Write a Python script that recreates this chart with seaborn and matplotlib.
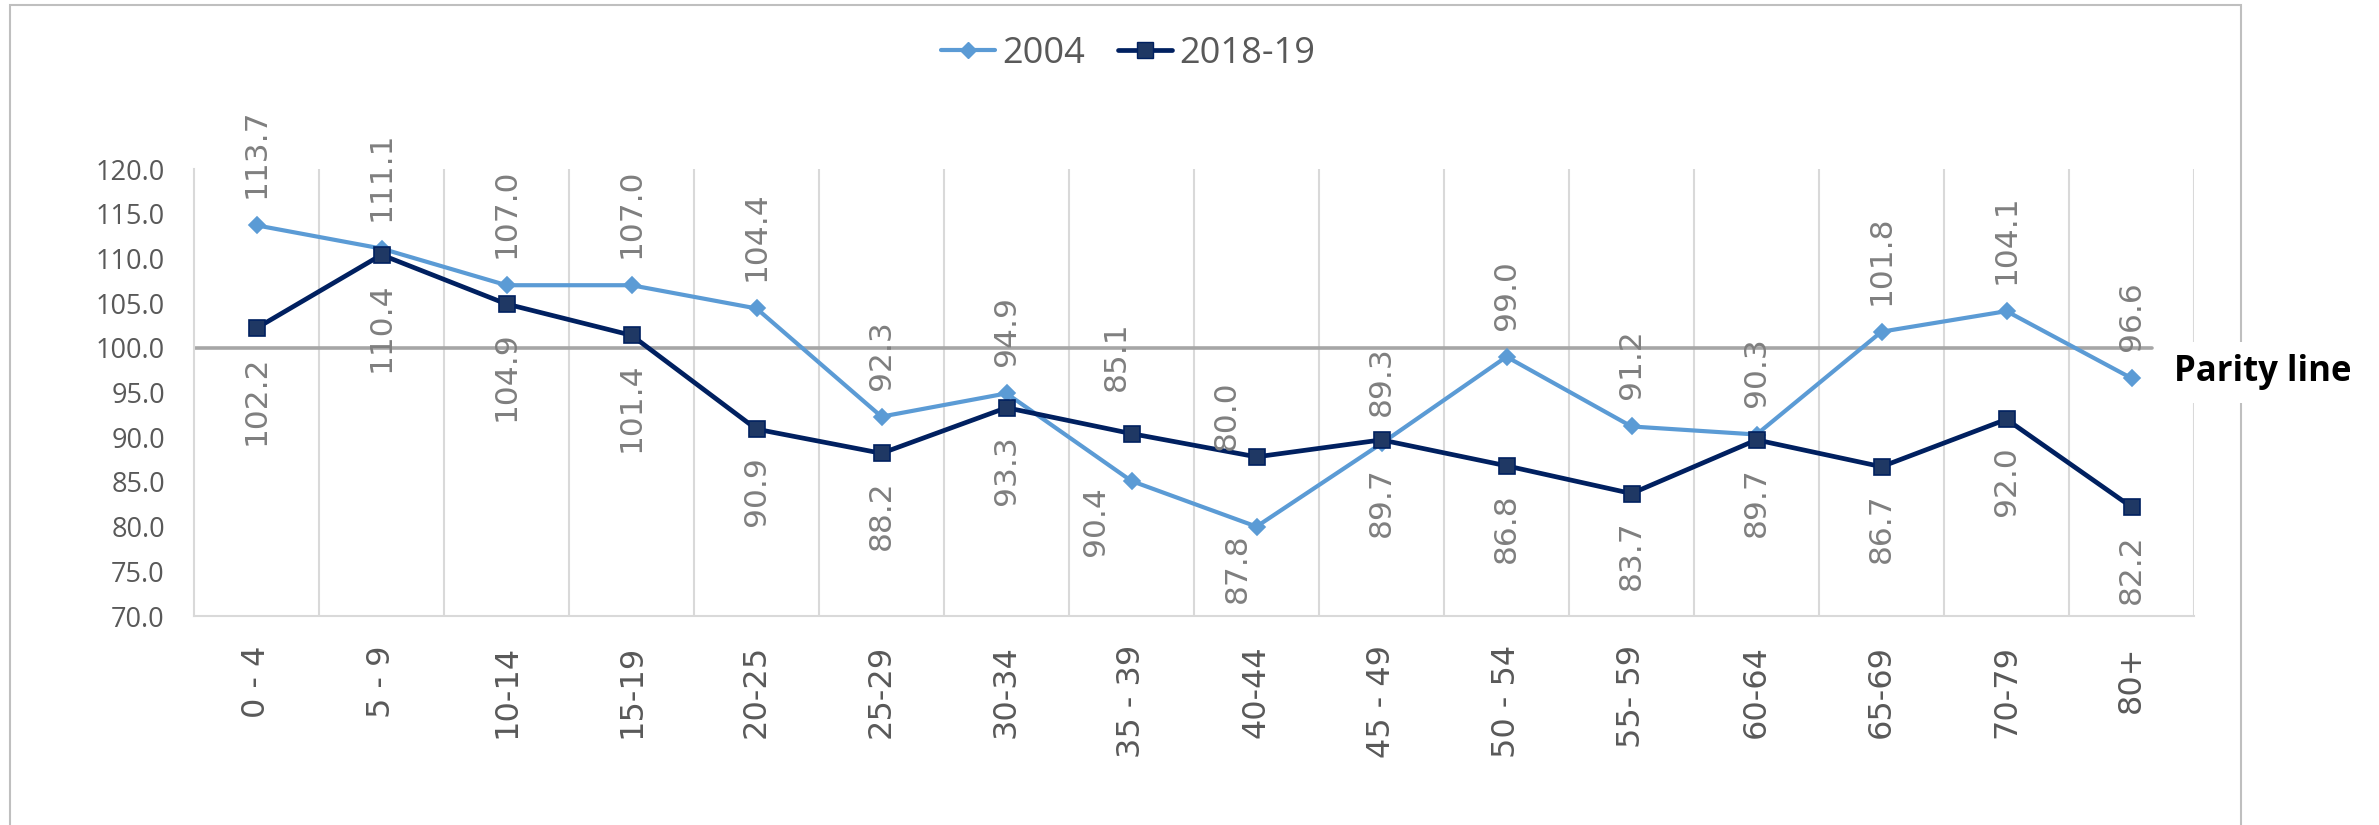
import pandas as pd
import matplotlib.pyplot as plt
import matplotlib.patches as mpatches
import seaborn as sns

# 資料
age_groups = ['0 - 4', '5 - 9', '10-14', '15-19', '20-25', '25-29', '30-34', '35 - 39',
              '40-44', '45 - 49', '50 - 54', '55- 59', '60-64', '65-69', '70-79', '80+']
ratio_2004 = [113.7, 111.1, 107.0, 107.0, 104.4, 92.3, 94.9, 85.1,
              80.0, 89.3, 99.0, 91.2, 90.3, 101.8, 104.1, 96.6]
ratio_2018 = [102.2, 110.4, 104.9, 101.4, 90.9, 88.2, 93.3, 90.4,
              87.8, 89.7, 86.8, 83.7, 89.7, 86.7, 92.0, 82.2]
series_names = ['2004', '2018-19']
y_ticks = [70, 75, 80, 85, 90, 95, 100, 105, 110, 115, 120]

sns.set_theme(style="white")
plt.rcParams['font.family'] = ['DejaVu Sans']
calibri_like = ['Open Sans', 'DejaVu Sans']

df = pd.DataFrame({
    'age': age_groups * 2,
    'value': ratio_2004 + ratio_2018,
    'year': [series_names[0]] * len(age_groups) + [series_names[1]] * len(age_groups),
})

colors = {'2004': '#5B9BD5', '2018-19': '#002060'}

W, H = 2379, 825
fig = plt.figure(figsize=(W / 100, H / 100), dpi=100)
ax = fig.add_axes([194 / W, 1 - 616 / H, 2000 / W, 447 / H])

sns.lineplot(data=df, x='age', y='value', hue='year', style='year',
             markers={'2004': 'D', '2018-19': 's'}, dashes=False, sort=False,
             palette=colors, linewidth=3.0, ax=ax, legend=False)

# 標記外觀
marker_style = [('#5B9BD5', '#5B9BD5', 8.5, 3.0), ('#1F3864', '#002060', 12.0, 3.4)]
for line, (mfc, mec, ms, lw) in zip(ax.lines, marker_style):
    line.set_markerfacecolor(mfc)
    line.set_markeredgecolor(mec)
    line.set_markeredgewidth(1.2)
    line.set_markersize(ms)
    line.set_linewidth(lw)

# 平等線
ax.axhline(100, xmin=0, xmax=0.979, color='#A6A6A6', lw=2.6, zorder=1)

# 數據標籤 (部分標籤手動位移, 單位: points)
label_shift_2004 = {7: (-11, 65), 8: (-22, 55)}
label_shift_2018 = {7: (-26, 38), 8: (-14, 55)}
gap = 19.5
for i, (a, b) in enumerate(zip(ratio_2004, ratio_2018)):
    dx, dy = label_shift_2004.get(i, (0, gap))
    ax.annotate(f"{a:.1f}", (i, a), xytext=(dx, dy), textcoords='offset points',
                rotation=90, ha='center', va='bottom', fontsize=22.5, color='#7F7F7F')
    dx, dy = label_shift_2018.get(i, (0, gap))
    ax.annotate(f"{b:.1f}", (i, b), xytext=(dx, -dy), textcoords='offset points',
                rotation=90, ha='center', va='top', fontsize=22.5, color='#7F7F7F')

ax.set_xlim(-0.5, len(age_groups) - 0.5)
ax.set_ylim(70, 120)
ax.set_yticks(y_ticks)
ax.set_yticklabels([f"{v:.1f}" for v in y_ticks], family=calibri_like, fontsize=19.5,
                   color='#595959')
ax.set_xticks(range(len(age_groups)))
ax.set_xticklabels(age_groups, rotation=90, fontsize=23, color='#595959', va='top')
ax.set_xticks([i + 0.5 for i in range(len(age_groups))], minor=True)
ax.tick_params(axis='x', which='both', length=0, pad=21)
ax.tick_params(axis='y', length=0, pad=21)
ax.grid(False)
ax.grid(True, which='minor', axis='x', color='#D9D9D9', lw=1.5)
ax.set_xlabel('')
ax.set_ylabel('')
for side in ['top', 'right']:
    ax.spines[side].set_visible(False)
for side in ['left', 'bottom']:
    ax.spines[side].set_color('#D9D9D9')
    ax.spines[side].set_linewidth(1.5)

# 圖例
handles = [plt.Line2D([], [], color=l.get_color(), lw=l.get_linewidth(), marker=l.get_marker(),
                      markersize=l.get_markersize(), markerfacecolor=l.get_markerfacecolor(),
                      markeredgecolor=l.get_markeredgecolor()) for l in ax.lines[:2]]
fig.legend(handles, series_names, loc='center', bbox_to_anchor=(1128 / W, 1 - 54 / H),
           ncol=2, frameon=False, handlelength=1.5, handletextpad=0.2, columnspacing=0.9,
           prop={'family': calibri_like, 'size': 26}, labelcolor='#595959')

# 外框
fig.patches.append(mpatches.Rectangle((10 / W, -0.05), (2241 - 10) / W, 1.05 - 5 / H,
                                      transform=fig.transFigure, fill=False,
                                      edgecolor='#BFBFBF', lw=1.5))

fig.text(2174 / W, 1 - 372 / H, 'Parity line', family=calibri_like, fontsize=25,
         fontweight='bold', color='black', va='center', ha='left',
         bbox=dict(facecolor='white', edgecolor='none', pad=9))

fig.savefig('out.png', dpi=100)
